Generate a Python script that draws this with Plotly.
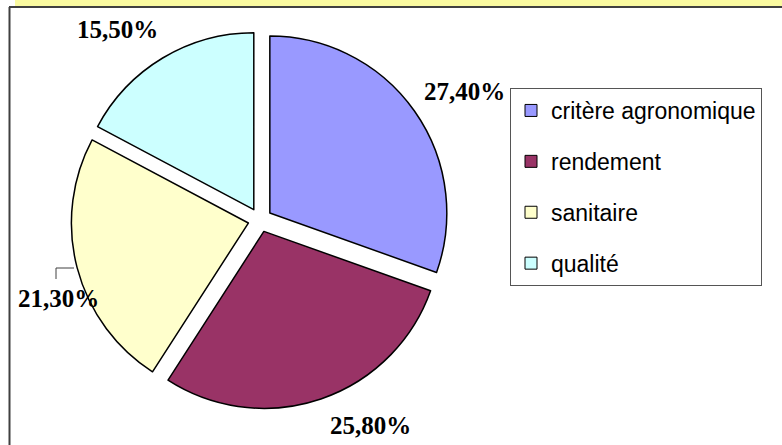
import plotly.graph_objects as go

categories = ["critère agronomique", "rendement", "sanitaire", "qualité"]
values = [27.4, 25.8, 21.3, 15.5]
colors = ["#9999FF", "#993366", "#FFFFCC", "#CCFFFF"]

W, H = 782, 445

def px(x):
    return x / W

def py(y):
    return 1 - y / H

fig = go.Figure()

fig.add_trace(go.Pie(
    labels=categories,
    values=values,
    sort=False,
    direction="clockwise",
    rotation=0,
    pull=[0.068] * len(values),
    marker=dict(colors=colors, line=dict(color="black", width=1.5)),
    textinfo="none",
    hoverinfo="label+value",
    showlegend=False,
    domain=dict(x=[px(71), px(449)], y=[py(409), py(31)]),
))

# legend entries (one per category)
for name, col in zip(categories, colors):
    fig.add_trace(go.Scatter(
        x=[None], y=[None], mode="markers", name=name, legendgroup=name,
        marker=dict(symbol="square", size=12, color=col,
                    line=dict(color="black", width=1)),
    ))

# percentage labels
label_pos = [(464, 91), (370, 425), (58, 298), (117, 30)]
annotations = []
for v, (lx, ly) in zip(values, label_pos):
    annotations.append(dict(
        x=px(lx), y=py(ly), xref="paper", yref="paper",
        text="<b>" + f"{v:.2f}%".replace(".", ",") + "</b>", showarrow=False,
        xanchor="center", yanchor="middle",
        font=dict(family="Liberation Serif", size=25, color="black"),
    ))

shapes = [
    # yellow band at top
    dict(type="rect", xref="paper", yref="paper", x0=px(15), x1=1, y0=py(6), y1=1,
         fillcolor="#FAFAA0", line=dict(width=0), layer="below"),
    # top frame line
    dict(type="line", xref="paper", yref="paper", x0=px(9), x1=1, y0=py(7), y1=py(7),
         line=dict(color="#404040", width=2)),
    # left frame line
    dict(type="line", xref="paper", yref="paper", x0=px(9.5), x1=px(9.5), y0=0, y1=py(7),
         line=dict(color="#404040", width=2)),
    # leader line for 21,30%
    dict(type="path", xref="paper", yref="paper",
         path=f"M {px(56)} {py(279)} L {px(56)} {py(268)} L {px(74)} {py(268)}",
         line=dict(color="#404040", width=1)),
]

fig.update_layout(
    width=W, height=H,
    margin=dict(l=0, r=0, t=0, b=0),
    paper_bgcolor="white", plot_bgcolor="white",
    xaxis=dict(visible=False), yaxis=dict(visible=False),
    showlegend=True,
    legend=dict(
        x=px(510), y=py(88), xanchor="left", yanchor="top",
        bordercolor="#555555", borderwidth=1, bgcolor="white",
        font=dict(family="Liberation Sans", size=23, color="black"),
        tracegroupgap=18, entrywidth=225, itemwidth=30,
    ),
    annotations=annotations,
    shapes=shapes,
)

fig.write_html("out.html", config={"displayModeBar": False},
               post_script="document.body.style.margin='0';document.body.style.padding='0';")
